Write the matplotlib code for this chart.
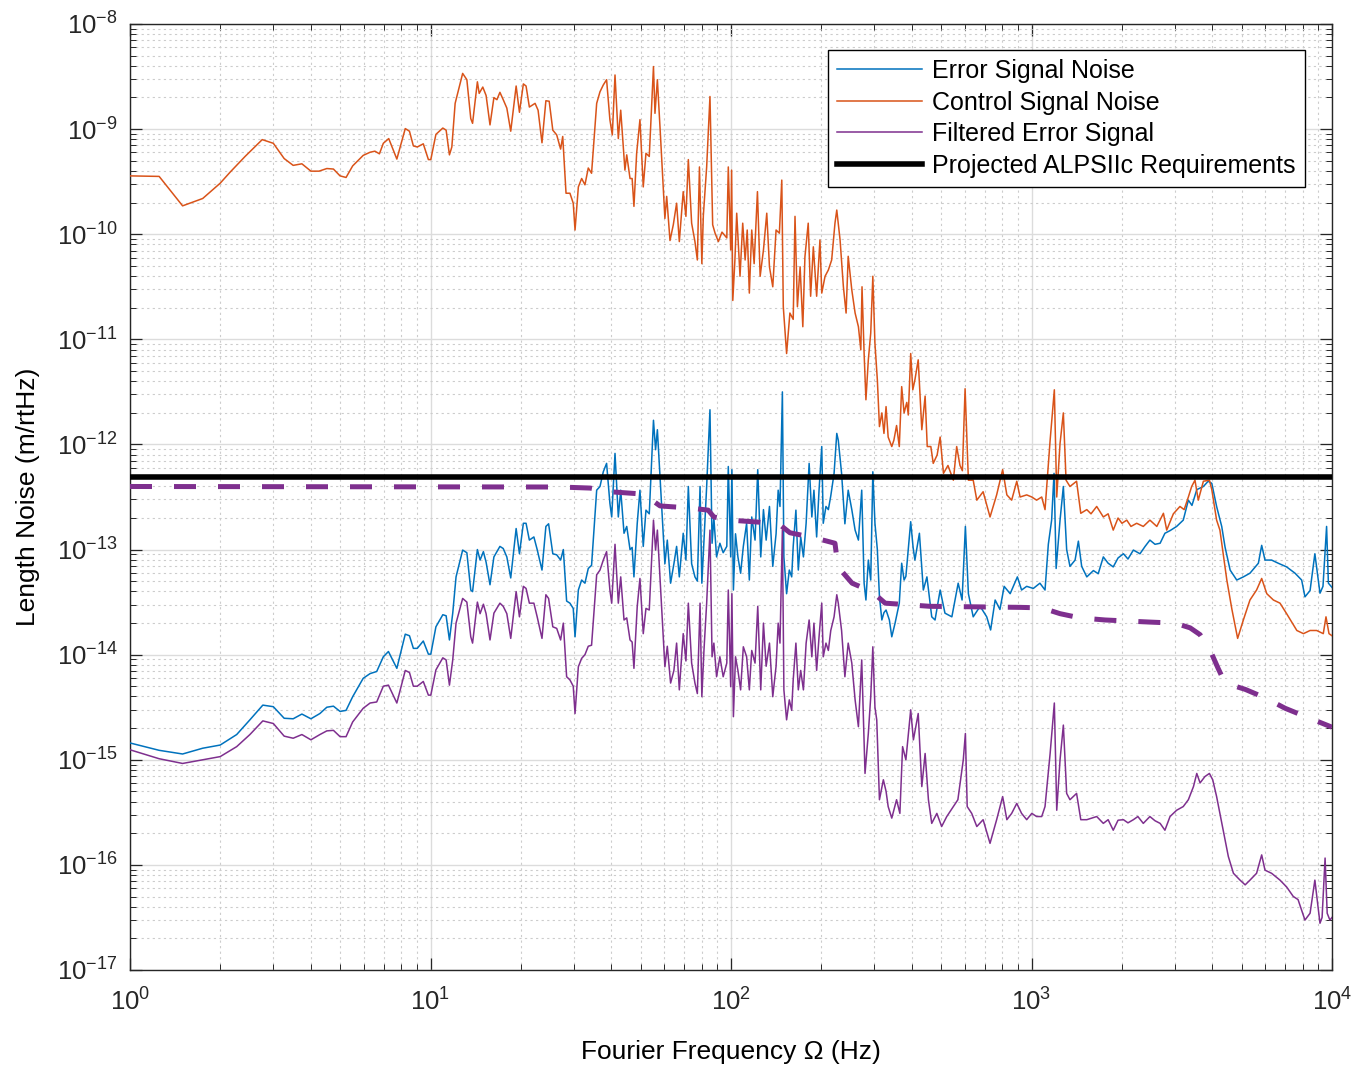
import numpy as np
import matplotlib
matplotlib.use("Agg")
import matplotlib.pyplot as plt
from matplotlib.ticker import LogLocator, NullFormatter, LogFormatterSciNotation

# ---------------- data (log10 frequency [Hz], log10 amplitude [m/rtHz]) ----------------
err_logf = [
    0.000, 0.097, 0.175, 0.242, 0.300, 0.355, 0.399, 0.442, 0.477, 0.513,
    0.543, 0.572, 0.602, 0.632, 0.655, 0.677, 0.699, 0.719, 0.741, 0.776,
    0.799, 0.821, 0.843, 0.860, 0.888, 0.916, 0.930, 0.943, 0.956, 0.976,
    0.993, 1.001, 1.018, 1.041, 1.052, 1.063, 1.074, 1.085, 1.107, 1.121,
    1.134, 1.140, 1.156, 1.165, 1.176, 1.185, 1.198, 1.211, 1.231, 1.242,
    1.254, 1.267, 1.285, 1.296, 1.309, 1.318, 1.329, 1.344, 1.355, 1.371,
    1.384, 1.393, 1.407, 1.420, 1.433, 1.442, 1.453, 1.464, 1.475, 1.481,
    1.492, 1.503, 1.514, 1.525, 1.536, 1.553, 1.564, 1.575, 1.586, 1.597,
    1.603, 1.614, 1.625, 1.633, 1.644, 1.653, 1.664, 1.671, 1.677, 1.688,
    1.697, 1.708, 1.717, 1.728, 1.742, 1.749, 1.755, 1.766, 1.780, 1.788,
    1.799, 1.810, 1.819, 1.828, 1.841, 1.850, 1.858, 1.869, 1.880, 1.888,
    1.897, 1.903, 1.910, 1.919, 1.930, 1.937, 1.943, 1.952, 1.963, 1.974,
    1.986, 1.991, 1.999, 2.003, 2.008, 2.015, 2.023, 2.032, 2.041, 2.052,
    2.061, 2.069, 2.080, 2.089, 2.099, 2.108, 2.117, 2.128, 2.139, 2.150,
    2.157, 2.163, 2.171, 2.176, 2.185, 2.194, 2.202, 2.207, 2.216, 2.224,
    2.232, 2.241, 2.250, 2.260, 2.269, 2.276, 2.285, 2.293, 2.302, 2.307,
    2.316, 2.324, 2.332, 2.343, 2.352, 2.357, 2.368, 2.379, 2.390, 2.402,
    2.413, 2.424, 2.435, 2.443, 2.449, 2.457, 2.465, 2.472, 2.479, 2.487,
    2.494, 2.502, 2.509, 2.516, 2.527, 2.535, 2.546, 2.560, 2.568, 2.576,
    2.582, 2.598, 2.606, 2.612, 2.627, 2.640, 2.652, 2.668, 2.679, 2.696,
    2.712, 2.735, 2.756, 2.769, 2.780, 2.790, 2.806, 2.829, 2.851, 2.864,
    2.879, 2.895, 2.909, 2.929, 2.953, 2.967, 2.984, 3.006, 3.028, 3.045,
    3.056, 3.067, 3.075, 3.082, 3.095, 3.106, 3.117, 3.128, 3.145, 3.156,
    3.167, 3.184, 3.206, 3.222, 3.239, 3.255, 3.272, 3.288, 3.306, 3.321,
    3.339, 3.361, 3.378, 3.394, 3.411, 3.428, 3.444, 3.461, 3.483, 3.505,
    3.522, 3.534, 3.550, 3.572, 3.588, 3.600, 3.616, 3.633, 3.644, 3.661,
    3.683, 3.705, 3.727, 3.755, 3.766, 3.777, 3.799, 3.821, 3.849, 3.877,
    3.899, 3.910, 3.927, 3.943, 3.960, 3.970, 3.982, 3.988, 4.000]

err_logv = [
    -14.84, -14.91, -14.945, -14.89, -14.86, -14.76, -14.62, -14.48, -14.495, -14.605,
    -14.61, -14.565, -14.61, -14.56, -14.50, -14.49, -14.54, -14.53, -14.40, -14.225,
    -14.18, -14.16, -14.02, -13.97, -14.13, -13.805, -13.82, -13.94, -13.94, -13.87,
    -13.995, -13.995, -13.735, -13.62, -13.63, -13.86, -13.605, -13.26, -13.005, -13.03,
    -13.385, -13.40, -13.00, -13.10, -13.02, -13.12, -13.335, -13.07, -12.97, -12.99,
    -13.07, -13.27, -12.80, -13.04, -12.75, -12.75, -12.91, -12.88, -13.00, -13.195,
    -12.78, -12.755, -13.04, -13.05, -13.10, -13.00, -13.49, -13.51, -13.56, -13.83,
    -13.385, -13.29, -13.32, -13.18, -13.15, -12.435, -12.40, -12.26, -12.18, -12.56,
    -12.69, -12.085, -12.69, -12.435, -12.845, -12.78, -13.00, -12.98, -13.26, -12.75,
    -12.435, -12.97, -12.625, -12.66, -11.77, -12.05, -11.86, -12.42, -13.135, -12.91,
    -13.32, -13.135, -12.97, -13.26, -12.845, -13.10, -12.40, -13.135, -13.26, -13.30,
    -12.40, -13.32, -12.91, -12.40, -11.67, -12.94, -12.70, -13.07, -12.94, -13.03,
    -12.97, -12.21, -13.07, -12.24, -13.385, -12.85, -13.07, -13.225, -12.97, -12.75,
    -13.29, -12.69, -12.91, -12.24, -13.07, -12.62, -12.91, -12.59, -13.16, -12.85,
    -12.435, -12.59, -11.50, -13.07, -13.42, -13.195, -13.26, -12.97, -12.625, -13.195,
    -12.88, -13.07, -12.75, -12.18, -12.69, -12.435, -12.88, -12.435, -12.02, -12.75,
    -12.59, -12.62, -12.49, -12.275, -11.895, -11.96, -12.275, -12.755, -12.435, -12.62,
    -12.815, -12.91, -12.435, -13.32, -13.48, -13.10, -13.29, -12.26, -12.75, -13.00,
    -13.45, -13.67, -13.60, -13.575, -13.67, -13.83, -13.70, -13.51, -13.13, -13.29,
    -13.255, -12.735, -12.98, -13.10, -12.845, -13.385, -13.26, -13.64, -13.67, -13.385,
    -13.605, -13.64, -13.32, -13.48, -12.78, -13.42, -13.64, -13.54, -13.64, -13.765,
    -13.48, -13.57, -13.35, -13.42, -13.26, -13.385, -13.35, -13.37, -13.32, -13.385,
    -12.95, -12.72, -12.275, -13.18, -12.72, -12.40, -13.00, -13.16, -13.10, -12.92,
    -13.16, -13.26, -13.20, -13.23, -13.07, -13.13, -13.165, -13.08, -13.04, -13.09,
    -13.005, -13.04, -12.97, -12.91, -12.95, -12.94, -12.845, -12.82, -12.78, -12.72,
    -12.53, -12.58, -12.43, -12.40, -12.35, -12.37, -12.59, -12.78, -12.975, -13.195,
    -13.29, -13.26, -13.225, -13.13, -12.96, -13.10, -13.10, -13.13, -13.165, -13.225,
    -13.29, -13.45, -13.39, -13.04, -13.415, -13.35, -12.78, -13.32, -13.36]

filt_logf = err_logf[:170] + [
    2.413, 2.424, 2.435, 2.446, 2.457, 2.465, 2.472, 2.479, 2.485, 2.494,
    2.507, 2.516, 2.523, 2.535, 2.551, 2.562, 2.571, 2.582, 2.598, 2.607,
    2.623, 2.635, 2.646, 2.657, 2.668, 2.685, 2.701, 2.718, 2.740, 2.755,
    2.773, 2.780, 2.786, 2.801, 2.818, 2.839, 2.862, 2.884, 2.904, 2.918,
    2.934, 2.951, 2.967, 2.984, 3.001, 3.017, 3.034, 3.045, 3.062, 3.076,
    3.084, 3.095, 3.106, 3.117, 3.128, 3.150, 3.164, 3.184, 3.217, 3.239,
    3.255, 3.272, 3.288, 3.306, 3.321, 3.339, 3.354, 3.372, 3.394, 3.411,
    3.428, 3.444, 3.461, 3.483, 3.505, 3.522, 3.539, 3.550, 3.561, 3.577,
    3.592, 3.603, 3.616, 3.627, 3.644, 3.655, 3.672, 3.694, 3.711, 3.727,
    3.749, 3.766, 3.777, 3.799, 3.827, 3.849, 3.871, 3.887, 3.910, 3.927,
    3.943, 3.960, 3.967, 3.977, 3.984, 3.993, 4.000]

filt_logv = [
    -14.905, -14.99, -15.035, -15.00, -14.97, -14.875, -14.76, -14.63, -14.655, -14.775,
    -14.795, -14.76, -14.81, -14.76, -14.725, -14.72, -14.78, -14.78, -14.64, -14.51,
    -14.46, -14.45, -14.30, -14.29, -14.46, -14.15, -14.17, -14.30, -14.30, -14.255,
    -14.385, -14.385, -14.145, -14.03, -14.05, -14.29, -14.05, -13.70, -13.465, -13.50,
    -13.83, -13.89, -13.50, -13.61, -13.52, -13.61, -13.86, -13.605, -13.51, -13.54,
    -13.61, -13.845, -13.40, -13.64, -13.35, -13.37, -13.51, -13.51, -13.64, -13.845,
    -13.43, -13.465, -13.735, -13.75, -13.86, -13.70, -14.21, -14.24, -14.30, -14.56,
    -14.115, -14.035, -14.00, -13.92, -13.91, -13.24, -13.195, -13.10, -13.02, -13.385,
    -13.51, -12.95, -13.51, -13.26, -13.67, -13.65, -13.86, -13.88, -14.13, -13.54,
    -13.275, -13.80, -13.56, -13.575, -12.72, -13.005, -12.815, -13.385, -14.115, -13.92,
    -14.27, -14.15, -13.89, -14.335, -13.80, -14.06, -13.51, -14.08, -14.27, -14.37,
    -13.51, -14.40, -13.96, -13.51, -12.815, -14.02, -13.89, -14.21, -14.02, -14.21,
    -14.08, -13.385, -14.305, -13.42, -14.59, -14.02, -14.15, -14.335, -13.925, -14.02,
    -14.335, -13.96, -14.08, -13.54, -14.335, -13.70, -14.11, -13.89, -14.40, -14.11,
    -13.70, -13.89, -12.815, -14.335, -14.62, -14.43, -14.53, -14.24, -13.89, -14.335,
    -14.15, -14.335, -13.89, -13.67, -14.02, -13.70, -14.15, -13.83, -13.51, -14.02,
    -13.89, -13.96, -13.77, -13.64, -13.43, -13.51, -13.77, -14.21, -13.89, -14.08,
    -14.43, -14.685, -14.05, -15.13, -14.75, -14.40, -13.925, -14.50, -14.62, -15.38,
    -15.19, -15.30, -15.445, -15.555, -15.38, -15.51, -14.875, -15.00, -14.525, -14.81,
    -14.56, -15.255, -14.94, -15.38, -15.605, -15.51, -15.635, -15.54, -15.445, -15.38,
    -15.00, -14.75, -15.445, -15.51, -15.635, -15.57, -15.795, -15.57, -15.35, -15.57,
    -15.51, -15.415, -15.51, -15.57, -15.51, -15.54, -15.54, -15.445, -14.94, -14.46,
    -15.48, -15.00, -14.67, -15.32, -15.38, -15.32, -15.57, -15.57, -15.54, -15.605,
    -15.57, -15.67, -15.575, -15.57, -15.60, -15.57, -15.54, -15.605, -15.54, -15.58,
    -15.605, -15.67, -15.54, -15.48, -15.445, -15.38, -15.255, -15.13, -15.22, -15.16,
    -15.13, -15.19, -15.35, -15.51, -15.76, -15.92, -16.08, -16.145, -16.19, -16.145,
    -16.08, -15.905, -16.05, -16.08, -16.145, -16.21, -16.30, -16.33, -16.525, -16.46,
    -16.145, -16.555, -16.50, -15.935, -16.46, -16.525, -16.50]

ctrl_logf = [
    0.000, 0.097, 0.175, 0.242, 0.300, 0.333, 0.383, 0.440, 0.477, 0.513,
    0.543, 0.572, 0.602, 0.629, 0.655, 0.677, 0.699, 0.719, 0.741, 0.776,
    0.799, 0.815, 0.830, 0.843, 0.861, 0.888, 0.916, 0.930, 0.943, 0.956,
    0.976, 0.993, 1.001, 1.018, 1.041, 1.052, 1.063, 1.071, 1.082, 1.107,
    1.121, 1.134, 1.140, 1.156, 1.162, 1.174, 1.185, 1.198, 1.211, 1.221,
    1.231, 1.242, 1.254, 1.267, 1.285, 1.296, 1.309, 1.318, 1.329, 1.348,
    1.358, 1.371, 1.384, 1.395, 1.407, 1.420, 1.433, 1.440, 1.451, 1.464,
    1.475, 1.481, 1.492, 1.503, 1.514, 1.525, 1.536, 1.553, 1.564, 1.575,
    1.586, 1.597, 1.605, 1.614, 1.625, 1.633, 1.647, 1.653, 1.664, 1.671,
    1.677, 1.686, 1.697, 1.708, 1.717, 1.728, 1.742, 1.747, 1.755, 1.766,
    1.780, 1.786, 1.797, 1.808, 1.819, 1.828, 1.841, 1.850, 1.858, 1.869,
    1.880, 1.888, 1.895, 1.903, 1.908, 1.919, 1.930, 1.939, 1.947, 1.958,
    1.970, 1.986, 1.991, 1.999, 2.002, 2.006, 2.013, 2.019, 2.030, 2.039,
    2.047, 2.054, 2.061, 2.069, 2.077, 2.088, 2.097, 2.108, 2.119, 2.128,
    2.139, 2.150, 2.161, 2.169, 2.174, 2.185, 2.196, 2.207, 2.213, 2.221,
    2.230, 2.239, 2.246, 2.257, 2.265, 2.274, 2.285, 2.296, 2.302, 2.313,
    2.324, 2.335, 2.346, 2.352, 2.363, 2.374, 2.383, 2.390, 2.402, 2.413,
    2.424, 2.432, 2.436, 2.443, 2.449, 2.457, 2.465, 2.472, 2.479, 2.487,
    2.494, 2.502, 2.509, 2.516, 2.523, 2.535, 2.542, 2.551, 2.560, 2.568,
    2.576, 2.585, 2.590, 2.598, 2.605, 2.612, 2.623, 2.635, 2.646, 2.653,
    2.665, 2.673, 2.686, 2.696, 2.707, 2.722, 2.740, 2.751, 2.762, 2.770,
    2.779, 2.790, 2.806, 2.818, 2.839, 2.862, 2.884, 2.904, 2.918, 2.934,
    2.951, 2.962, 2.984, 3.001, 3.017, 3.034, 3.045, 3.062, 3.076, 3.084,
    3.095, 3.106, 3.115, 3.128, 3.150, 3.164, 3.184, 3.198, 3.217, 3.239,
    3.255, 3.272, 3.288, 3.301, 3.317, 3.331, 3.350, 3.372, 3.394, 3.417,
    3.439, 3.450, 3.472, 3.494, 3.508, 3.522, 3.533, 3.544, 3.555, 3.572,
    3.592, 3.600, 3.616, 3.627, 3.650, 3.667, 3.686, 3.705, 3.727, 3.749,
    3.766, 3.783, 3.805, 3.827, 3.849, 3.883, 3.905, 3.927, 3.949, 3.971,
    3.980, 3.990, 4.000]

ctrl_logv = [
    -9.445, -9.45, -9.73, -9.66, -9.515, -9.41, -9.26, -9.10, -9.135, -9.28,
    -9.345, -9.33, -9.40, -9.40, -9.375, -9.38, -9.445, -9.46, -9.35, -9.25,
    -9.22, -9.21, -9.235, -9.135, -9.09, -9.285, -8.995, -9.02, -9.16, -9.17,
    -9.14, -9.29, -9.29, -9.05, -8.99, -9.01, -9.245, -9.17, -8.755, -8.47,
    -8.53, -8.90, -8.945, -8.55, -8.66, -8.60, -8.68, -8.96, -8.70, -8.72,
    -8.65, -8.72, -8.80, -9.02, -8.59, -8.84, -8.57, -8.59, -8.79, -8.755,
    -8.82, -9.13, -8.73, -8.735, -9.01, -9.055, -9.19, -9.07, -9.61, -9.61,
    -9.705, -9.96, -9.55, -9.47, -9.53, -9.37, -9.42, -8.755, -8.645, -8.58,
    -8.53, -8.91, -9.055, -8.485, -9.09, -8.82, -9.39, -9.245, -9.47, -9.47,
    -9.735, -9.23, -8.91, -9.55, -9.23, -9.26, -8.405, -8.85, -8.53, -9.10,
    -9.85, -9.64, -10.06, -9.91, -9.705, -10.07, -9.595, -9.83, -9.29, -9.895,
    -10.07, -10.245, -9.36, -10.28, -9.82, -9.36, -8.69, -9.91, -9.99, -10.07,
    -9.98, -10.035, -9.36, -10.15, -9.39, -10.63, -10.245, -9.80, -10.40, -9.895,
    -10.245, -9.96, -10.56, -9.96, -10.28, -9.595, -10.40, -10.15, -9.80, -10.31,
    -10.50, -9.96, -9.99, -9.485, -10.69, -11.135, -10.75, -10.81, -9.83, -10.69,
    -10.31, -10.88, -10.215, -9.895, -10.59, -10.12, -10.59, -10.055, -10.56, -10.40,
    -10.34, -10.245, -9.895, -9.77, -10.055, -10.50, -10.75, -10.21, -10.53, -10.75,
    -10.88, -11.10, -10.50, -11.135, -11.575, -11.195, -10.94, -10.40, -11.04, -11.385,
    -11.83, -11.70, -11.895, -11.64, -11.93, -12.02, -11.96, -11.82, -12.02, -11.45,
    -11.70, -11.60, -11.72, -11.135, -11.48, -11.385, -11.195, -11.86, -11.54, -12.02,
    -12.02, -12.18, -12.10, -11.93, -12.275, -12.20, -12.34, -12.02, -12.20, -12.25,
    -11.47, -12.34, -12.34, -12.53, -12.45, -12.69, -12.48, -12.24, -12.48, -12.53,
    -12.35, -12.50, -12.48, -12.50, -12.53, -12.50, -12.62, -11.96, -11.48, -12.50,
    -11.99, -11.70, -12.34, -12.40, -12.35, -12.655, -12.62, -12.66, -12.59, -12.69,
    -12.66, -12.815, -12.70, -12.75, -12.72, -12.78, -12.75, -12.78, -12.72, -12.78,
    -12.655, -12.815, -12.66, -12.59, -12.62, -12.50, -12.40, -12.34, -12.53, -12.35,
    -12.34, -12.43, -12.72, -12.815, -13.29, -13.57, -13.845, -13.67, -13.48, -13.385,
    -13.275, -13.42, -13.48, -13.51, -13.61, -13.77, -13.80, -13.77, -13.77, -13.80,
    -13.64, -13.80, -13.82]

filter_shape_logf = [
    0.000, 1.431, 1.531, 1.597, 1.697, 1.737, 1.764, 1.864, 1.924, 1.943,
    1.997, 2.097, 2.163, 2.196, 2.280, 2.346, 2.356, 2.403, 2.469, 2.513,
    2.662, 2.962, 3.035, 3.095, 3.161, 3.245, 3.394, 3.478, 3.528, 3.561,
    3.594, 3.621, 3.644, 3.711, 3.777, 3.844, 3.917, 4.000]
filter_shape_logv = [
    -12.40, -12.405, -12.415, -12.45, -12.47, -12.53, -12.585, -12.605, -12.625, -12.69,
    -12.72, -12.74, -12.765, -12.84, -12.89, -12.94, -13.165, -13.32, -13.40, -13.51,
    -13.54, -13.55, -13.555, -13.61, -13.65, -13.67, -13.69, -13.70, -13.745, -13.81,
    -13.955, -14.13, -14.27, -14.33, -14.41, -14.51, -14.595, -14.69]

requirement_level = 4.9e-13
freq_range = (1.0, 1.0e4)
noise_range = (1.0e-17, 1.0e-8)

series_labels = ["Error Signal Noise", "Control Signal Noise",
                 "Filtered Error Signal", "Projected ALPSIIc Requirements"]

assert len(err_logf) == len(err_logv)
assert len(filt_logf) == len(filt_logv)
assert len(ctrl_logf) == len(ctrl_logv)
assert len(filter_shape_logf) == len(filter_shape_logv)

# ---------------- styling ----------------
plt.rcParams['font.family'] = ['Liberation Sans', 'DejaVu Sans']
plt.rcParams['mathtext.fontset'] = 'custom'
plt.rcParams['mathtext.rm'] = 'Liberation Sans'
plt.rcParams['mathtext.it'] = 'Liberation Sans:italic'
plt.rcParams['mathtext.bf'] = 'Liberation Sans:bold'

C_BLUE = '#0072BD'
C_ORANGE = '#D95319'
C_PURPLE = '#7E2F8E'
AX_COL = '#262626'

fig = plt.figure(figsize=(13.58, 10.67), dpi=100)
ax = fig.add_axes([130 / 1358, 1 - 970 / 1067, 1202 / 1358, 946 / 1067])

def pw(a):
    return 10.0 ** np.asarray(a, dtype=float)

h_err, = ax.plot(pw(err_logf), pw(err_logv), color=C_BLUE, lw=1.1, zorder=3)
h_ctrl, = ax.plot(pw(ctrl_logf), pw(ctrl_logv), color=C_ORANGE, lw=1.1, zorder=3)
h_filt, = ax.plot(pw(filt_logf), pw(filt_logv), color=C_PURPLE, lw=1.1, zorder=3)
h_req = ax.axhline(requirement_level, color='black', lw=4.0, zorder=5)
ax.plot(pw(filter_shape_logf), pw(filter_shape_logv), color=C_PURPLE, lw=3.6,
        ls=(0, (4.4, 4.4)), dash_capstyle='butt', zorder=4)

ax.set_xscale('log')
ax.set_yscale('log')
ax.set_xlim(*freq_range)
ax.set_ylim(*noise_range)

ax.xaxis.set_major_locator(LogLocator(base=10, numticks=20))
ax.yaxis.set_major_locator(LogLocator(base=10, numticks=20))
ax.xaxis.set_minor_locator(LogLocator(base=10, subs=np.arange(2, 10), numticks=100))
ax.yaxis.set_minor_locator(LogLocator(base=10, subs=np.arange(2, 10), numticks=100))
ax.xaxis.set_minor_formatter(NullFormatter())
ax.yaxis.set_minor_formatter(NullFormatter())
ax.xaxis.set_major_formatter(LogFormatterSciNotation())
ax.yaxis.set_major_formatter(LogFormatterSciNotation())
ax.xaxis.get_offset_text().set_visible(False)
ax.yaxis.get_offset_text().set_visible(False)

ax.grid(True, which='major', color='#dcdcdc', lw=1.0, ls='-', zorder=0)
ax.grid(True, which='minor', color='#cccccc', lw=0.8, ls=(0, (2, 3)), zorder=0)
ax.set_axisbelow(True)

ax.tick_params(which='both', direction='in', top=True, right=True, colors=AX_COL)
ax.tick_params(which='major', length=8.5, width=0.9, labelsize=18.5)
ax.tick_params(axis='x', which='major', pad=13)
ax.tick_params(axis='y', which='major', pad=9)
ax.tick_params(which='minor', length=4.5, width=0.7)
for s in ax.spines.values():
    s.set_color(AX_COL)
    s.set_linewidth(1.0)

ax.set_xlabel('Fourier Frequency \u03a9 (Hz)', fontsize=19, labelpad=18)
ax.set_ylabel('Length Noise (m/rtHz)', fontsize=19, labelpad=12)

leg = ax.legend([h_err, h_ctrl, h_filt, h_req], series_labels,
                loc='upper right', bbox_to_anchor=(0.9775, 0.9725),
                borderaxespad=0.0, fontsize=18, handlelength=3.4,
                labelspacing=0.3, handletextpad=0.4, borderpad=0.36,
                fancybox=False, framealpha=1.0, edgecolor='black')
leg.get_frame().set_linewidth(1.0)

fig.savefig('out.png', dpi=100)
